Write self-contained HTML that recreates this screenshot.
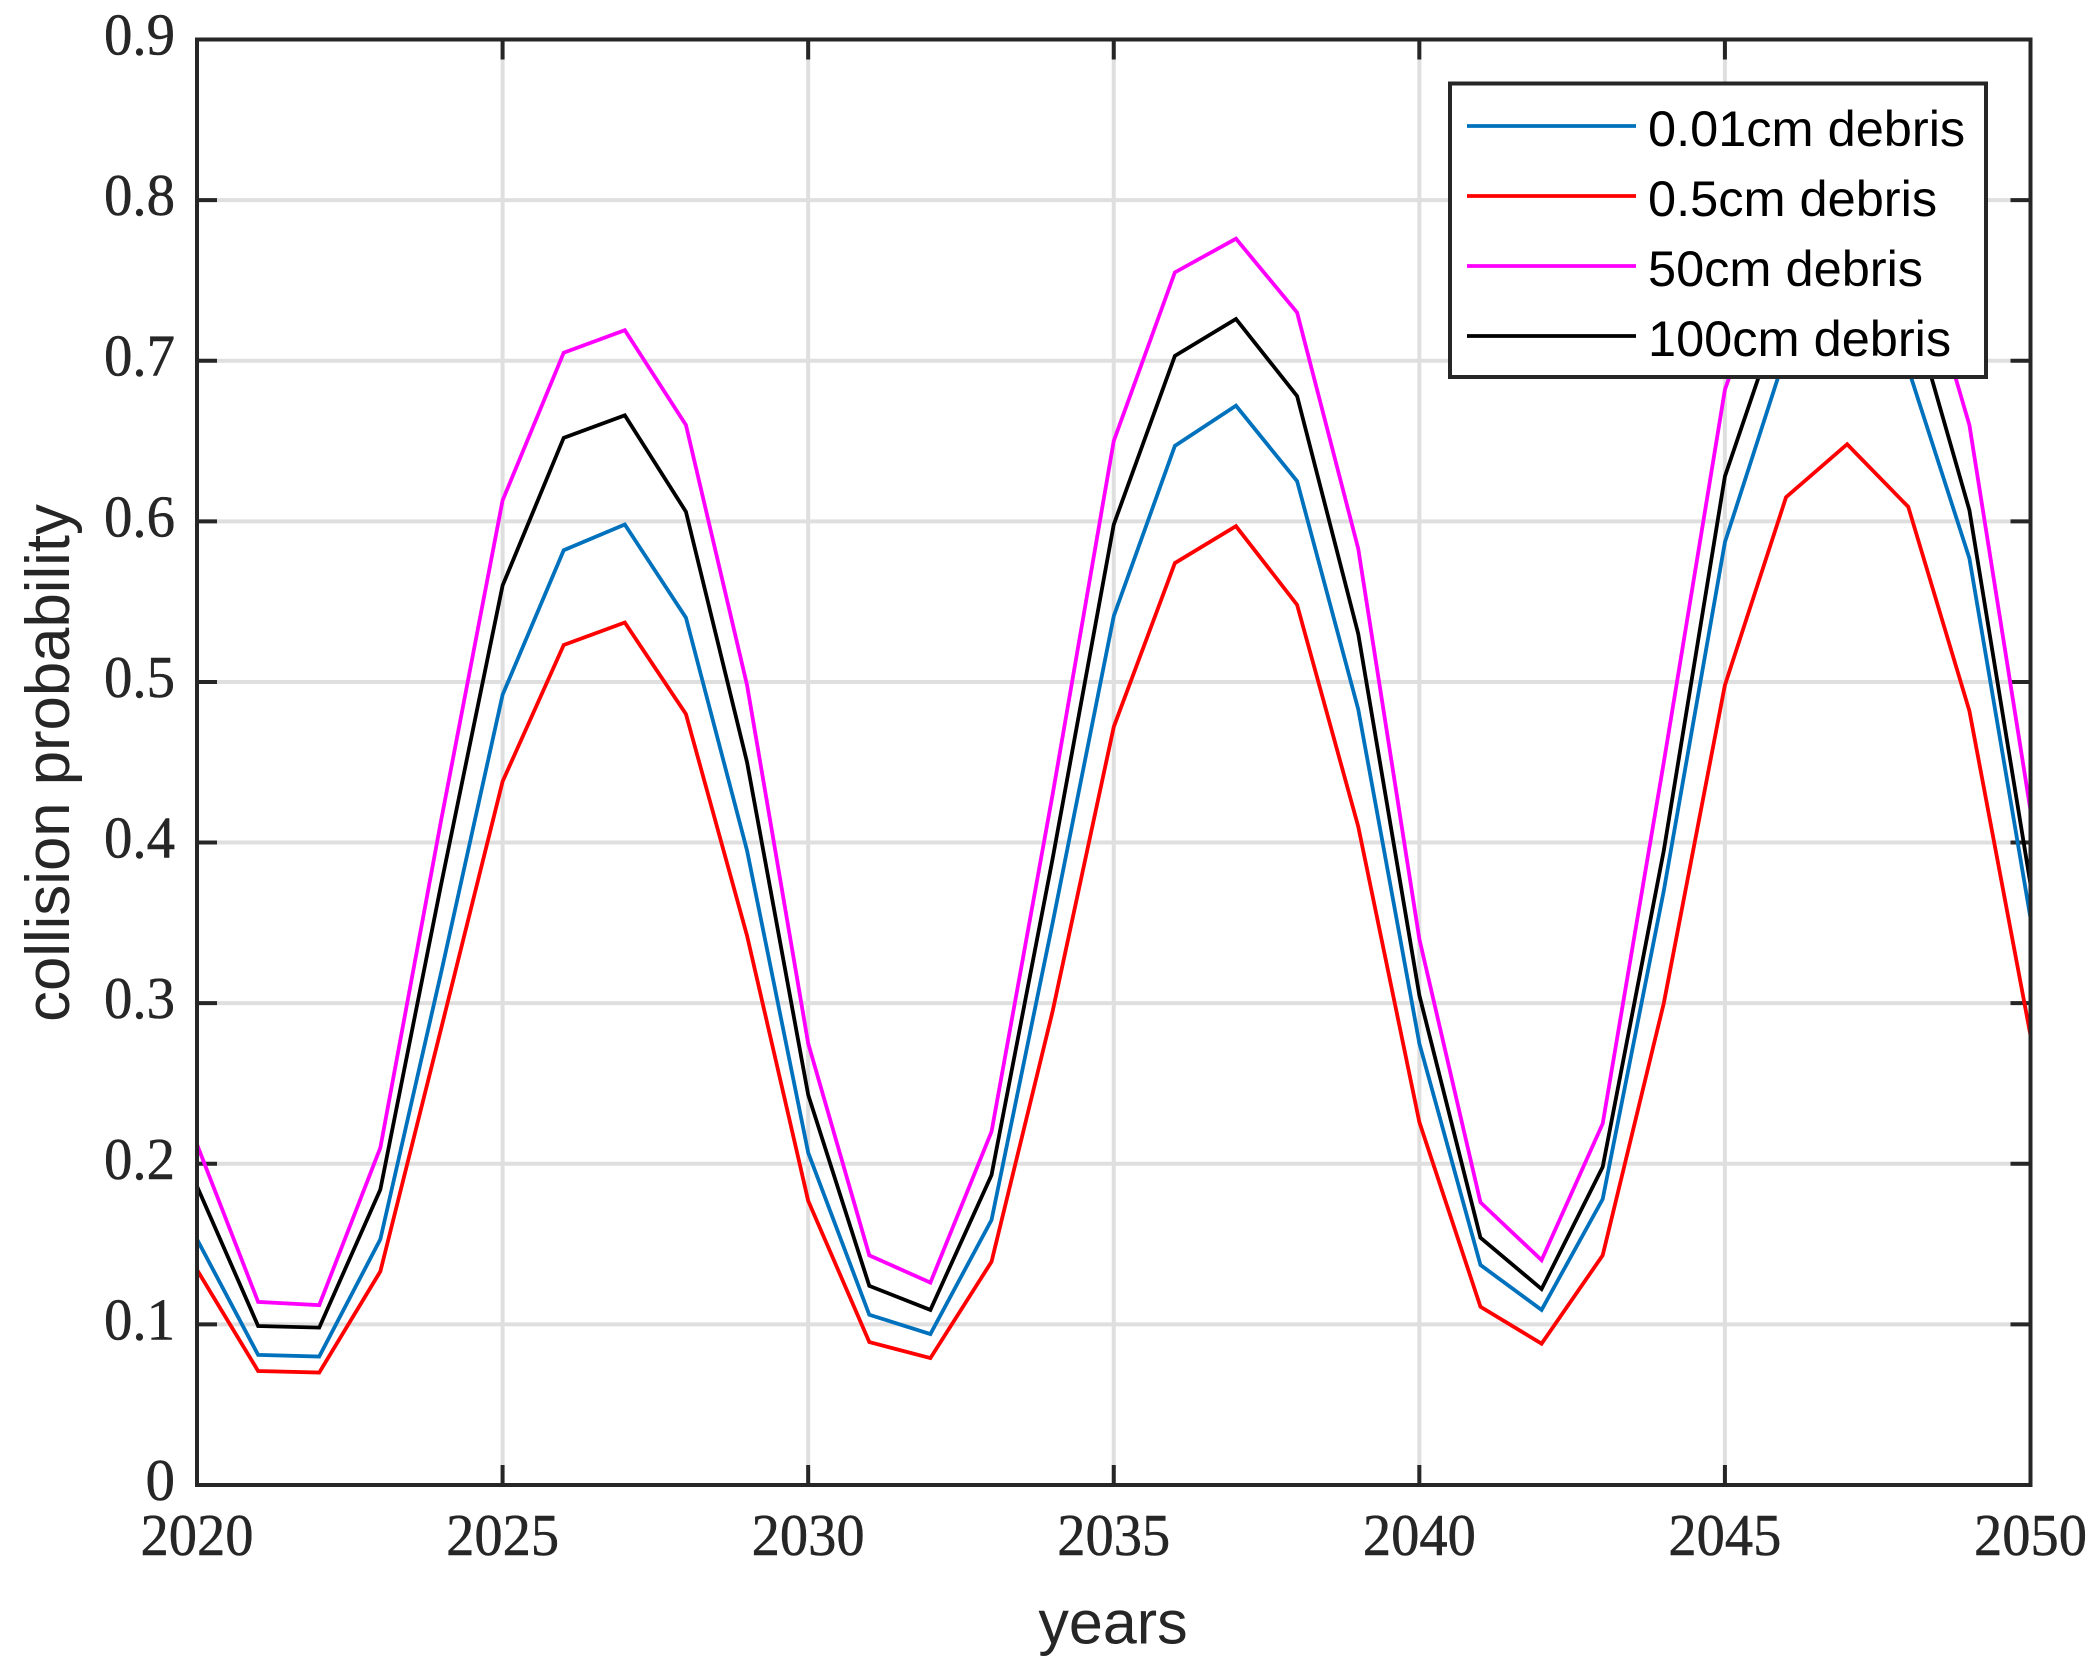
<!DOCTYPE html>
<html>
<head>
<meta charset="utf-8">
<style>
html,body{margin:0;padding:0;background:#fff;width:2100px;height:1670px;overflow:hidden}
svg{display:block}
</style>
</head>
<body>
<svg id="chart" xmlns="http://www.w3.org/2000/svg" width="2100" height="1670" viewBox="0 0 2100 1670"></svg>
<script>
const years = [2020,2021,2022,2023,2024,2025,2026,2027,2028,2029,2030,2031,2032,2033,2034,2035,2036,2037,2038,2039,2040,2041,2042,2043,2044,2045,2046,2047,2048,2049,2050];
const blueSeries = [.153,.081,.080,.153,.320,.492,.582,.598,.540,.395,.207,.106,.094,.165,.350,.541,.647,.672,.625,.483,.275,.137,.109,.178,.370,.587,.705,.740,.695,.577,.353];
const redSeries = [.134,.071,.070,.133,.285,.438,.523,.537,.480,.342,.177,.089,.079,.139,.295,.472,.574,.597,.548,.410,.226,.111,.088,.143,.300,.498,.615,.648,.609,.482,.280];
const magentaSeries = [.212,.114,.112,.210,.415,.613,.705,.719,.660,.498,.275,.143,.126,.220,.430,.650,.755,.776,.730,.583,.340,.176,.140,.225,.450,.682,.790,.830,.790,.660,.420];
const blackSeries = [.186,.099,.098,.184,.375,.560,.652,.666,.606,.450,.243,.124,.109,.193,.390,.598,.703,.726,.678,.530,.305,.154,.122,.198,.395,.628,.740,.780,.740,.607,.374];
const xTicks = [2020,2025,2030,2035,2040,2045,2050];
const yTicks = [0,0.1,0.2,0.3,0.4,0.5,0.6,0.7,0.8,0.9];
const yTickLabels = ['0','0.1','0.2','0.3','0.4','0.5','0.6','0.7','0.8','0.9'];
const legendLabels = ['0.01cm debris','0.5cm debris','50cm debris','100cm debris'];

const NS = 'http://www.w3.org/2000/svg';
const svg = document.getElementById('chart');
const L = 197, R = 2030.5, T = 39.5, B = 1485;
const AX = '#262626', GRID = '#dfdfdf';
const fx = v => L + (v - 2020) / 30 * (R - L);
const fy = v => B - v / 0.9 * (B - T);

function mk(tag, attrs, parent) {
  const e = document.createElementNS(NS, tag);
  for (const k in attrs) e.setAttribute(k, attrs[k]);
  (parent || svg).appendChild(e);
  return e;
}

const defs = mk('defs', {});
const clip = mk('clipPath', {id: 'plot-clip'}, defs);
mk('rect', {x: L, y: T, width: R - L, height: B - T}, clip);

const grid = mk('g', {stroke: GRID, 'stroke-width': 4, fill: 'none'});


xTicks.forEach(t => {
  if (t === 2020 || t === 2050) return;
  const g = mk('line', {x1: fx(t), x2: fx(t), y1: T, y2: B}, grid);
  
  
});
yTicks.forEach(t => {
  if (t === 0 || t === 0.9) return;
  const g = mk('line', {x1: L, x2: R, y1: fy(t), y2: fy(t)}, grid);
  
  
});

const ticks = mk('g', {stroke: AX, 'stroke-width': 4, fill: 'none'});


xTicks.forEach(t => {
  const a = mk('line', {x1: fx(t), x2: fx(t), y1: B, y2: B - 20}, ticks);
  
  
  const b = mk('line', {x1: fx(t), x2: fx(t), y1: T, y2: T + 20}, ticks);
  
  
});
yTicks.forEach(t => {
  const a = mk('line', {x1: L, x2: L + 20, y1: fy(t), y2: fy(t)}, ticks);
  
  
  const b = mk('line', {x1: R, x2: R - 20, y1: fy(t), y2: fy(t)}, ticks);
  
  
});

const seriesList = [
  {name: 'series-0-01cm-debris', color: '#0072BD', values: blueSeries},
  {name: 'series-0-5cm-debris', color: '#ff0000', values: redSeries},
  {name: 'series-50cm-debris', color: '#ff00ff', values: magentaSeries},
  {name: 'series-100cm-debris', color: '#000000', values: blackSeries}
];
const lines = mk('g', {'clip-path': 'url(#plot-clip)'});


seriesList.forEach(s => {
  const p = mk('polyline', {
    points: s.values.map((v, i) => fx(years[i]).toFixed(2) + ',' + fy(v).toFixed(2)).join(' '),
    fill: 'none', stroke: s.color, 'stroke-width': 3.8, 'stroke-linejoin': 'miter'
  }, lines);
  
  
});

const box = mk('rect', {x: L, y: T, width: R - L, height: B - T, fill: 'none', stroke: AX, 'stroke-width': 4});



const serif = '"Liberation Serif", serif';
const sans = '"Liberation Sans", sans-serif';
xTicks.forEach(t => {
  const e = mk('text', {x: fx(t), y: 1555, 'text-anchor': 'middle', 'font-family': serif, 'font-size': 59, fill: AX, stroke: AX, 'stroke-width': 0.5, textLength: 113, lengthAdjust: 'spacingAndGlyphs'});
  e.textContent = String(t);
  
  
});
yTicks.forEach((t, i) => {
  const lab = yTickLabels[i];
  const e = mk('text', {x: 175, y: fy(t) + 15, 'text-anchor': 'end', 'font-family': serif, 'font-size': 59, fill: AX, stroke: AX, 'stroke-width': 0.5});
  if (lab.length > 1) { e.setAttribute('textLength', 71); e.setAttribute('lengthAdjust', 'spacingAndGlyphs'); }
  e.textContent = lab;
  
  
});

const xTitle = mk('text', {x: 1113, y: 1643.5, 'text-anchor': 'middle', 'font-family': sans, 'font-size': 61, fill: AX});
xTitle.textContent = 'years';



const yTitle = mk('text', {x: 0, y: 0, transform: 'translate(69,763) rotate(-90)', 'text-anchor': 'middle', 'font-family': sans, 'font-size': 61.7, fill: AX});
yTitle.textContent = 'collision probability';



const legend = mk('g', {});


const legendBox = mk('rect', {x: 1450, y: 83.5, width: 536, height: 293.5, fill: '#fff', stroke: AX, 'stroke-width': 4}, legend);


legendLabels.forEach((lab, i) => {
  const y = 126 + i * 70;
  const ln = mk('line', {x1: 1467, x2: 1636, y1: y, y2: y, stroke: seriesList[i].color, 'stroke-width': 3.8}, legend);
  
  
  const tx = mk('text', {x: 1648, y: y + 20, 'font-family': sans, 'font-size': 50.5, fill: '#000'}, legend);
  tx.textContent = lab;
  
  
});
</script>
</body>
</html>
